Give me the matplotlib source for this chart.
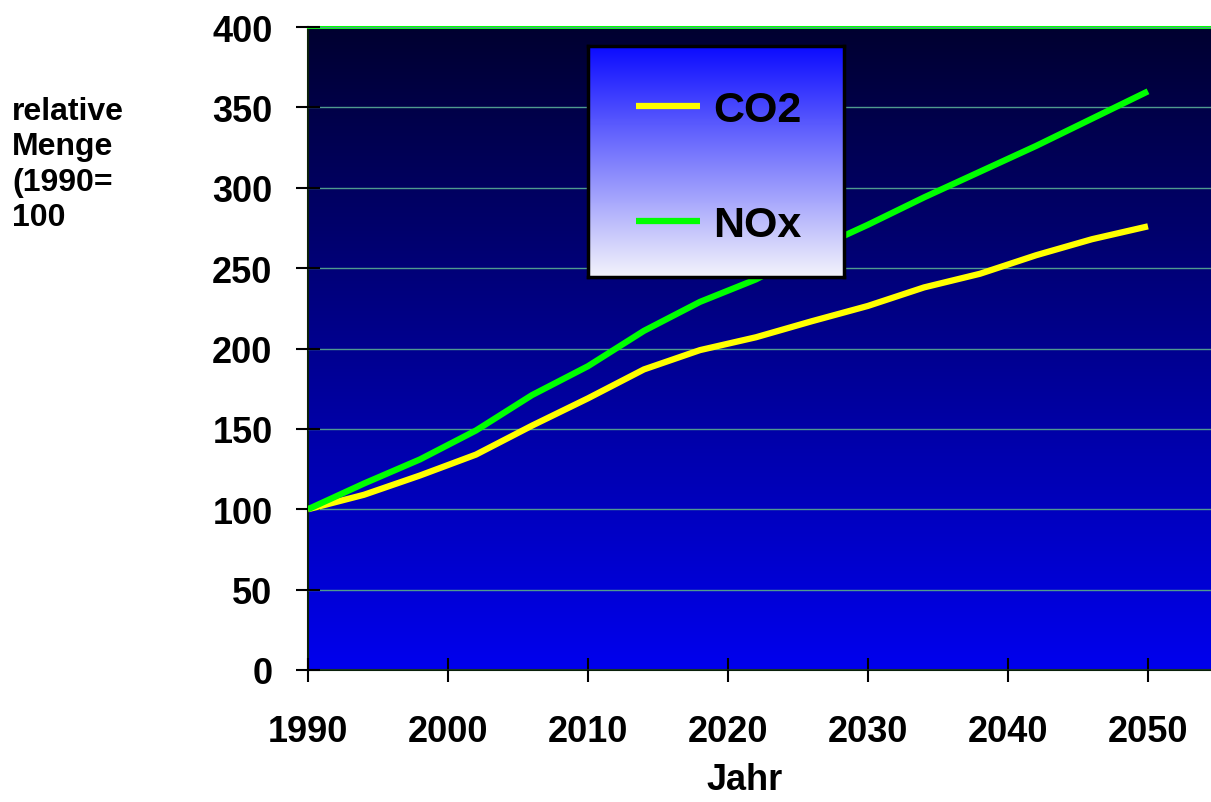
#!/usr/bin/env python3
"""Relative CO2 / NOx emissions 1990-2050 (1990 = 100)."""

import numpy as np
import matplotlib.pyplot as plt
from matplotlib.colors import LinearSegmentedColormap

# =============================================================================
# Data
# =============================================================================
years = [1990, 1994, 1998, 2002, 2006, 2010, 2014, 2018,
         2022, 2026, 2030, 2034, 2038, 2042, 2046, 2050]
co2 = [100, 109, 121, 134, 152, 169, 187, 199,
       207, 217, 226.5, 238, 246.5, 258, 268, 276]
nox = [100, 116, 131, 149, 171, 189, 211, 229,
       243, 261, 277, 294, 310, 326, 343, 360]

series_names = ['CO2', 'NOx']
series_colors = ['#ffff00', '#00ff00']

x_ticks = [1990, 2000, 2010, 2020, 2030, 2040, 2050]
y_ticks = [0, 50, 100, 150, 200, 250, 300, 350, 400]

y_title = 'relative\nMenge\n(1990=\n100'
x_title = 'Jahr'

# =============================================================================
# Global plot settings
# =============================================================================
plt.rcParams['font.family'] = ['Liberation Sans', 'DejaVu Sans']
plt.rcParams['font.weight'] = 'bold'

fig = plt.figure(figsize=(12.11, 8.03), dpi=100)
ax = fig.add_axes([0.2543, 0.1644, 0.7457, 0.8007])

# gradient background of the plot area (dark navy at top -> bright blue)
bg_cmap = LinearSegmentedColormap.from_list('bg', ['#0000ee', '#000030'])
ax.imshow(np.linspace(0, 1, 256).reshape(-1, 1), cmap=bg_cmap,
          aspect='auto', extent=[0, 1, 0, 1], origin='lower',
          transform=ax.transAxes, zorder=0)

lines = []
for vals, name, col in zip([co2, nox], series_names, series_colors):
    ln, = ax.plot(years, vals, color=col, lw=4.5, label=name,
                  solid_capstyle='butt', solid_joinstyle='miter', zorder=3)
    lines.append(ln)

ax.set_xlim(1990, 2054.5)
ax.set_ylim(0, 400)
ax.set_xticks(x_ticks)
ax.set_yticks(y_ticks)
ax.grid(axis='y', color='#4f9a8f', lw=1.0, zorder=1)
ax.set_axisbelow(False)

ax.tick_params(direction='inout', length=17, width=1.5, color='black',
               labelsize=26, zorder=4)
ax.tick_params(axis='y', pad=17)
ax.tick_params(axis='x', pad=23)

for side in ['left', 'bottom']:
    ax.spines[side].set_color('#0a200a')
    ax.spines[side].set_linewidth(1.5)
ax.spines['top'].set_color('#00ff00')
ax.spines['top'].set_linewidth(2.2)
ax.spines['right'].set_visible(False)

ax.set_xlabel(x_title, fontsize=26, fontweight='bold')
ax.xaxis.set_label_coords(0.484, -0.171)
ax.xaxis.label.set_va('center')

fig.text(12 / 1211, 1 - 97 / 803, y_title, fontsize=23, fontweight='bold',
         ha='left', va='top', linespacing=1.23)

# legend box with its own white-to-blue gradient
lax = fig.add_axes([0.4856, 0.6538, 0.2114, 0.2877])
leg_cmap = LinearSegmentedColormap.from_list('leg', ['#f4f4fb', '#0a0aff'])
lax.imshow(np.linspace(0, 1, 256).reshape(-1, 1), cmap=leg_cmap,
           aspect='auto', extent=[0, 1, 0, 1], origin='lower')
lax.set_xlim(0, 1)
lax.set_ylim(0, 1)
lax.set_xticks([])
lax.set_yticks([])
for sp in lax.spines.values():
    sp.set_color('black')
    sp.set_linewidth(2.5)
leg = lax.legend(handles=lines, loc='center', bbox_to_anchor=(0.51, 0.475),
                 frameon=False, prop={'size': 31, 'weight': 'bold'},
                 handlelength=1.5, handletextpad=0.3, labelspacing=1.75)

fig.savefig('out.png', dpi=100)
